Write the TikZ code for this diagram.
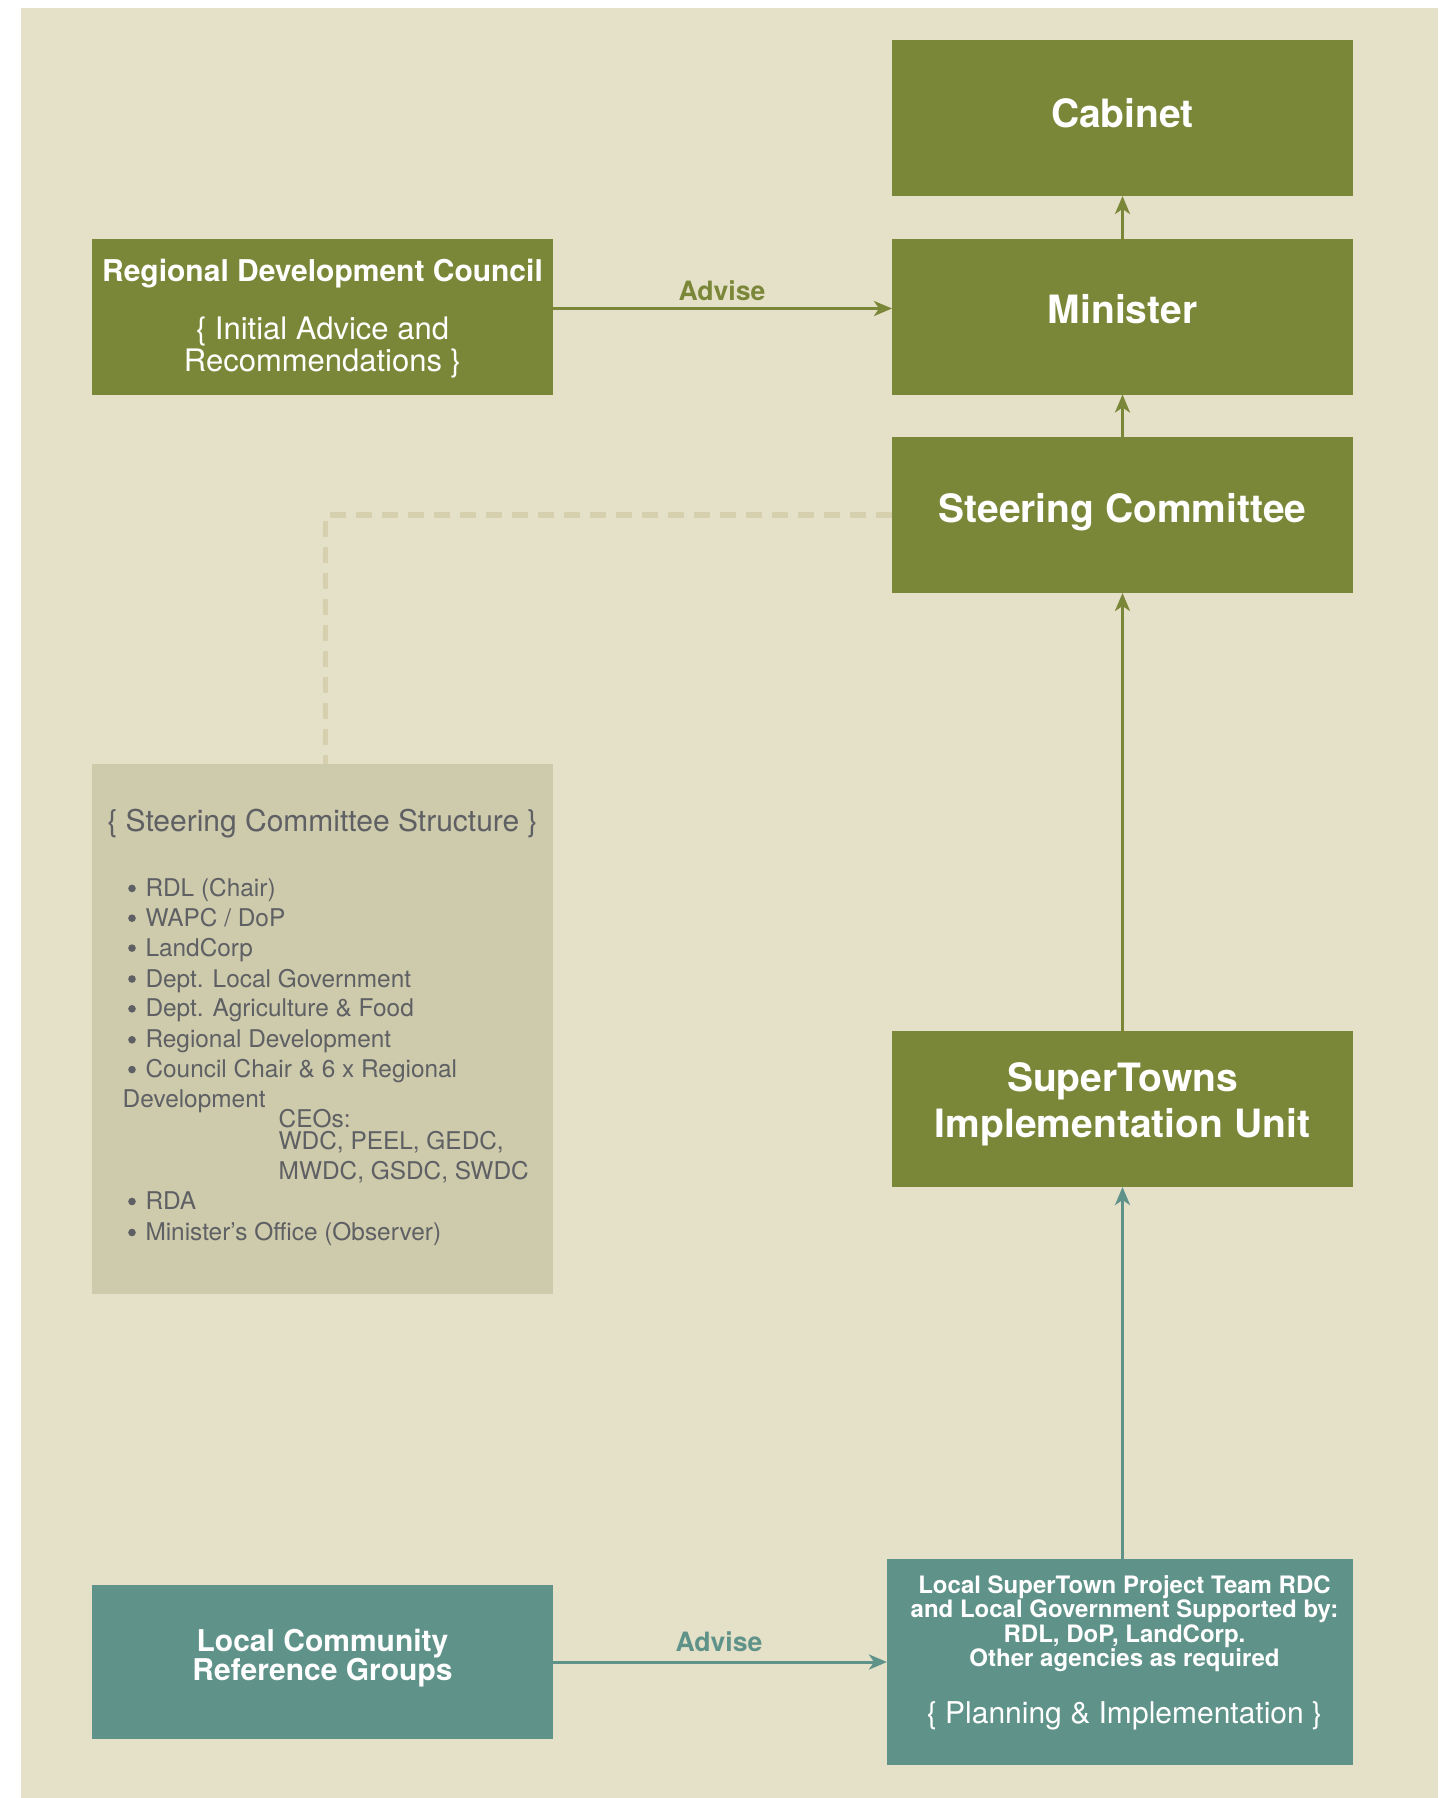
\documentclass[tikz,border=0pt]{standalone}
\usepackage{fontspec}
\setmainfont{TeX Gyre Heros}
\usetikzlibrary{arrows.meta}
\definecolor{bgC}{HTML}{E5E0C8}
\definecolor{oliveC}{HTML}{7B8738}
\definecolor{tealC}{HTML}{5F9389}
\definecolor{structC}{HTML}{CECAAC}
\definecolor{dashC}{HTML}{D6D0AE}
\definecolor{grayT}{HTML}{5E6063}
\begin{document}
\begin{tikzpicture}[x=0.5pt,y=-0.5pt,
  box/.style={rectangle,inner sep=0pt,outer sep=0pt,minimum width=230.5pt,minimum height=78pt},
  obox/.style={box,fill=oliveC},
  tbox/.style={box,fill=tealC},
  txt/.style={inner sep=0pt,outer sep=0pt,anchor=base,text=white},
  bigt/.style={txt,font=\fontsize{19.5}{19.5}\selectfont\bfseries},
  midt/.style={txt,font=\fontsize{15}{15}\selectfont\bfseries},
  lightt/.style={txt,font=\fontsize{15.5}{15.5}\selectfont},
  smallt/.style={txt,font=\fontsize{12}{12}\selectfont\bfseries},
  advt/.style={txt,font=\fontsize{13.3}{13.3}\selectfont\bfseries},
  itemt/.style={inner sep=0pt,outer sep=0pt,anchor=base west,text=grayT,font=\fontsize{12.2}{12.2}\selectfont},
  oarr/.style={draw=oliveC,line width=1.5pt,-{Stealth[length=9pt,width=7.5pt,inset=2.5pt]}},
  tarr/.style={draw=tealC,line width=1.5pt,-{Stealth[length=9pt,width=7.5pt,inset=2.5pt]}},
  dashl/.style={draw=dashC,line width=2.7pt,dash pattern=on 8pt off 5pt}
]
\useasboundingbox (0,0) rectangle (1453,1798);
\fill[bgC] (21,8) rectangle (1438,1798);

% boxes
\node[obox] (cab) at (1122.5,118) {};
\node[obox] (min) at (1122.5,316.5) {};
\node[obox] (sc) at (1122.5,515) {};
\node[obox] (stiu) at (1122.5,1109) {};
\node[tbox,minimum width=233pt,minimum height=102.75pt] (lst) at (1120,1661.75) {};
\node[obox] (rdc) at (322.5,316.5) {};
\node[box,fill=structC,minimum height=265pt] (st) at (322.5,1029) {};
\node[tbox,minimum height=77pt] (lcrg) at (322.5,1662) {};

% connectors
\draw[dashl] (sc.west) -| ([xshift=1.5pt]st.north);
\draw[oarr] (min.north) -- (cab.south);
\draw[oarr] (sc.north) -- (min.south);
\draw[oarr] (stiu.north) -- (sc.south);
\draw[tarr] (lst.north -| stiu.south) -- (stiu.south);
\draw[oarr] ([yshift=4pt]rdc.east) -- ([yshift=4pt]min.west);
\draw[tarr] (lcrg.east) -- (lcrg.east -| lst.west);

% texts
\node[bigt] (cabt) at (1122.5,127) {Cabinet};
\node[bigt] (mint) at (1122.5,323.5) {Minister};
\node[bigt] (sct) at (1122.5,522) {Steering Committee};
\node[bigt] (stiu1) at (1122.5,1091) {SuperTowns};
\node[bigt] (stiu2) at (1122.5,1137) {Implementation Unit};

\node[midt] (rdct) at (322.5,281) {Regional Development Council};
\node[lightt] (rdc1) at (322.5,339) {\{ Initial Advice and};
\node[lightt] (rdc2) at (322.5,371) {Recommendations \}};

\node[advt,text=oliveC] (adv1) at (722,300) {Advise};
\node[advt,text=tealC] (adv2) at (719,1651.5) {Advise};

\node[midt] (lcrg1) at (322.5,1651) {Local Community};
\node[midt] (lcrg2) at (322.5,1680.5) {Reference Groups};

\node[smallt] (lst1) at (1124.5,1593.5) {Local SuperTown Project Team RDC};
\node[smallt] (lst2) at (1124.5,1617.5) {and Local Government Supported by:};
\node[smallt] (lst3) at (1124.5,1642) {RDL, DoP, LandCorp.};
\node[smallt] (lst4) at (1124.5,1666) {Other agencies as required};
\node[txt,font=\fontsize{15}{15}\selectfont] (lstp) at (1124.5,1723.3) {\{ Planning \& Implementation \}};

% structure list
\node[txt,text=grayT,font=\fontsize{15}{15}\selectfont] (stt) at (322.5,831) {\{ Steering Committee Structure \}};
\foreach \yy in {896.4,926.2,956.1,987,1016.8,1047.8,1077.6,1209.5,1240.5}
  \fill[grayT] (132,\yy-8) circle[radius=1.9pt];
\node[itemt] (s1) at (145.5,896.4) {RDL (Chair)};
\node[itemt] (s2) at (145.5,926.2) {WAPC / DoP};
\node[itemt] (s3) at (145.5,956.1) {LandCorp};
\node[itemt] (s4) at (145.5,987) {Dept. Local Government};
\node[itemt] (s5) at (145.5,1016.8) {Dept. Agriculture \& Food};
\node[itemt] (s6) at (145.5,1047.8) {Regional Development};
\node[itemt] (s7) at (145.5,1077.6) {Council Chair \& 6 x Regional};
\node[itemt] (s8) at (122.7,1107.4) {Development};
\node[itemt] (s9) at (278.7,1127) {CEOs:};
\node[itemt] (s10) at (278.7,1149.8) {WDC, PEEL, GEDC,};
\node[itemt] (s11) at (278.7,1179.7) {MWDC, GSDC, SWDC};
\node[itemt] (s12) at (145.5,1209.5) {RDA};
\node[itemt] (s13) at (145.5,1240.5) {Minister’s Office (Observer)};
\end{tikzpicture}
\end{document}
